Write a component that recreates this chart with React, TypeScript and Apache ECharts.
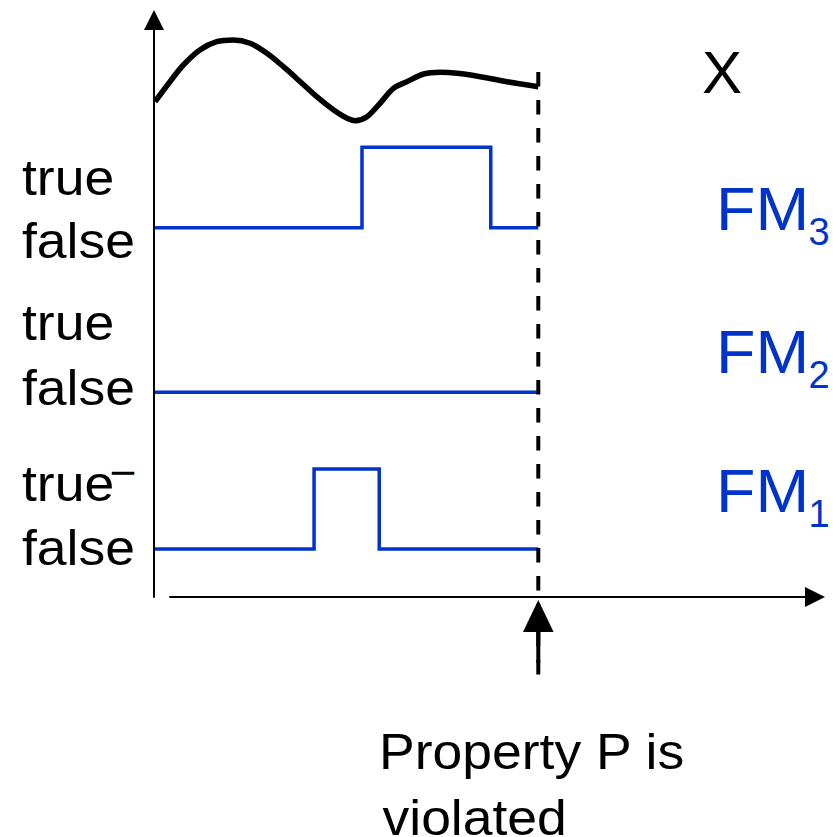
import React, { useEffect, useRef } from "react";
import * as echarts from "echarts";

// ---- data (time in arbitrary units; the violation happens at timeEnd) ----
const timeEnd = 100;
const curveTime = [0, 3.9, 7.4, 11.7, 16.1, 20.4, 24.8, 29.2, 33.5, 37.9, 42.2, 46.6, 50.1, 52.2, 55.3, 58.7, 62.2, 65.7, 70.1, 74.4, 78.8, 84.9, 91.8, 100];
const curveValue = [2.83, 4.83, 6.5, 8.0, 8.83, 9.0, 8.67, 7.67, 6.33, 4.83, 3.33, 2.0, 1.17, 0.93, 1.33, 2.67, 4.17, 4.83, 5.6, 5.77, 5.67, 5.33, 4.83, 4.33];

const fm3Times = [0, 54.0, 87.6, 100];
const fm3Levels = [0, 1, 0];
const fm2Times = [0, 100];
const fm2Levels = [0];
const fm1Times = [0, 41.5, 58.5, 100];
const fm1Levels = [0, 1, 0];

const levelLabels = ["false", "true"];
const laneNames = ["FM", "FM", "FM"];
const laneSubs = ["3", "2", "1"];
const signalName = "X";
const fm1TrueMark = "\u2212";
const caption = ["Property P is", "violated"];

const BLUE = "#0033cc";
const FONT = "'Liberation Sans', Arial, sans-serif";

function stepData(times: number[], levels: number[]) {
  const d: number[][] = [];
  for (let i = 0; i < levels.length; i++) {
    d.push([times[i], levels[i]]);
    d.push([times[i + 1], levels[i]]);
  }
  return d;
}

function txt(text: string, x: number, y: number, size: number, color: string, sx = 1) {
  return {
    type: "text",
    x,
    y,
    scaleX: sx,
    silent: true,
    style: {
      text,
      fontSize: size,
      fontFamily: FONT,
      fill: color,
      align: "left",
      verticalAlign: "middle",
    },
  };
}

export default function App() {
  const ref = useRef<HTMLDivElement>(null);
  useEffect(() => {
    document.body.style.margin = "0";
    const chart = echarts.init(ref.current!, null, { renderer: "svg" });
    const dataRight = 294.7;
    const hidden = { show: false };
    const option: any = {
      animation: false,
      grid: [
        { left: 155, right: dataRight, top: 30, bottom: 707 },
        { left: 155, right: dataRight, top: 147.3, height: 80.4 },
        { left: 155, right: dataRight, top: 312, height: 80.3 },
        { left: 155, right: dataRight, top: 469, height: 80 },
        { left: 155, right: dataRight, top: 72, bottom: 160 },
        { left: 154, right: 18, top: 20, bottom: 240 },
        { left: 170, right: 18, top: 20, bottom: 240 },
      ],
      xAxis: [
        ...[0, 1, 2, 3, 4].map((g) => ({ type: "value", gridIndex: g, min: 0, max: timeEnd, ...hidden })),
        { type: "value", gridIndex: 5, min: 0, max: 1, ...hidden },
        {
          type: "value",
          gridIndex: 6,
          min: 0,
          max: 1,
          axisLine: {
            show: true,
            onZero: false,
            symbol: ["none", "triangle"],
            symbolSize: [20, 20],
            lineStyle: { color: "#000", width: 2 },
          },
          axisTick: { show: false },
          axisLabel: { show: false },
          splitLine: { show: false },
        },
      ],
      yAxis: [
        { type: "value", gridIndex: 0, min: 0, max: 10, ...hidden },
        { type: "value", gridIndex: 1, min: 0, max: 1, ...hidden },
        { type: "value", gridIndex: 2, min: 0, max: 1, ...hidden },
        { type: "value", gridIndex: 3, min: 0, max: 1, ...hidden },
        { type: "value", gridIndex: 4, min: 0, max: 1, ...hidden },
        {
          type: "value",
          gridIndex: 5,
          min: 0,
          max: 1,
          axisLine: {
            show: true,
            onZero: false,
            symbol: ["none", "triangle"],
            symbolSize: [20, 20],
            lineStyle: { color: "#000", width: 2 },
          },
          axisTick: { show: false },
          axisLabel: { show: false },
          splitLine: { show: false },
        },
        { type: "value", gridIndex: 6, min: 0, max: 1, ...hidden },
      ],
      series: [
        {
          name: "X",
          type: "line",
          xAxisIndex: 0,
          yAxisIndex: 0,
          data: curveTime.map((t, i) => [t, curveValue[i]]),
          smooth: 0.35,
          symbol: "none",
          clip: false,
          lineStyle: { color: "#000", width: 5.5 },
        },
        {
          name: "FM3",
          type: "line",
          xAxisIndex: 1,
          yAxisIndex: 1,
          data: stepData(fm3Times, fm3Levels),
          symbol: "none",
          clip: false,
          lineStyle: { color: BLUE, width: 3.5, join: "miter" },
        },
        {
          name: "FM2",
          type: "line",
          xAxisIndex: 2,
          yAxisIndex: 2,
          data: stepData(fm2Times, fm2Levels),
          symbol: "none",
          clip: false,
          lineStyle: { color: BLUE, width: 3.5, join: "miter" },
        },
        {
          name: "FM1",
          type: "line",
          xAxisIndex: 3,
          yAxisIndex: 3,
          data: stepData(fm1Times, fm1Levels),
          symbol: "none",
          clip: false,
          lineStyle: { color: BLUE, width: 3.5, join: "miter" },
        },
        {
          name: "violation",
          type: "line",
          xAxisIndex: 4,
          yAxisIndex: 4,
          data: [
            [timeEnd, 1],
            [timeEnd, 0],
          ],
          symbol: "none",
          clip: false,
          lineStyle: { color: "#000", width: 4, type: [14.5, 13.5] },
        },
      ],
    };
    chart.setOption(option);

    const vx = chart.convertToPixel({ gridIndex: 4 }, [timeEnd, 0])[0];
    const axisY = chart.convertToPixel({ gridIndex: 6 }, [0, 0])[1];

    const TF = 50;
    const SX = 1.07;
    const graphic: any[] = [
      // level labels for FM3, FM2, FM1
      txt(levelLabels[1], 22, 177.7, TF, "#000", SX),
      txt(levelLabels[0], 22, 241.0, TF, "#000", SX),
      txt(levelLabels[1], 22, 322.7, TF, "#000", SX),
      txt(levelLabels[0], 22, 387.7, TF, "#000", SX),
      txt(levelLabels[1], 22, 483.2, TF, "#000", SX),
      txt(fm1TrueMark, 109.5, 472, 42, "#000", 1.1),
      txt(levelLabels[0], 22, 547.7, TF, "#000", SX),
      // signal names
      txt(signalName, 702, 72.5, 60, "#000"),
      txt(laneNames[0], 716, 208.5, 62, BLUE, 1.04),
      txt(laneSubs[0], 808.5, 231.8, 38, BLUE),
      txt(laneNames[1], 716, 351.5, 62, BLUE, 1.04),
      txt(laneSubs[1], 808.5, 374.8, 38, BLUE),
      txt(laneNames[2], 716, 490.2, 62, BLUE, 1.04),
      txt(laneSubs[2], 808.5, 513.5, 38, BLUE),
      // caption
      txt(caption[0], 379, 751.7, TF, "#000", SX),
      txt(caption[1], 382.5, 817.7, TF, "#000", SX),
      // arrow pointing at the violation instant
      {
        type: "polygon",
        silent: true,
        shape: {
          points: [
            [vx, axisY + 3],
            [vx - 15.3, axisY + 35],
            [vx + 15.3, axisY + 35],
          ],
        },
        style: { fill: "#000" },
      },
      {
        type: "rect",
        silent: true,
        shape: { x: vx - 2, y: axisY + 34, width: 4, height: 32 },
        style: { fill: "#000" },
      },
    ];
    chart.setOption({ graphic });

    return () => chart.dispose();
  }, []);
  return <div ref={ref} style={{ width: 833, height: 837 }} />;
}
